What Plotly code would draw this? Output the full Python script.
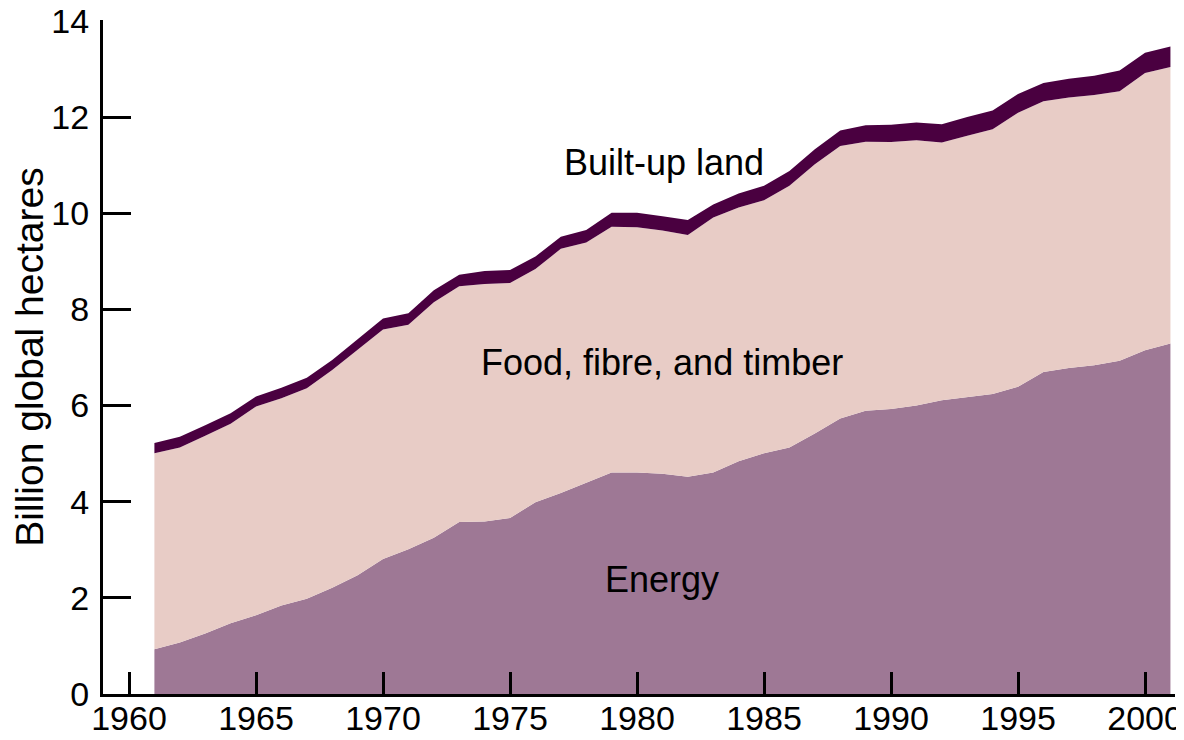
import plotly.graph_objects as go

years = list(range(1961, 2002))

energy = [0.93, 1.07, 1.26, 1.47, 1.64, 1.84, 1.98, 2.21, 2.47, 2.81,
          3.01, 3.25, 3.58, 3.59, 3.66, 3.99, 4.18, 4.39, 4.61, 4.61,
          4.58, 4.52, 4.61, 4.84, 5.01, 5.13, 5.42, 5.73, 5.89, 5.93,
          6.00, 6.11, 6.17, 6.24, 6.39, 6.70, 6.78, 6.84, 6.93, 7.15,
          7.29]

food_fibre_timber = [4.08, 4.06, 4.11, 4.15, 4.34, 4.31, 4.38, 4.53, 4.69, 4.77,
                     4.67, 4.90, 4.90, 4.94, 4.89, 4.85, 5.08, 5.00, 5.11, 5.10,
                     5.06, 5.03, 5.30, 5.28, 5.26, 5.44, 5.60, 5.67, 5.60, 5.55,
                     5.52, 5.36, 5.44, 5.51, 5.70, 5.63, 5.63, 5.62, 5.61, 5.77,
                     5.75]

built_up_land = [0.21, 0.22, 0.22, 0.22, 0.21, 0.22, 0.22, 0.21, 0.22, 0.23,
                 0.24, 0.25, 0.24, 0.27, 0.27, 0.26, 0.25, 0.26, 0.29, 0.30,
                 0.30, 0.31, 0.27, 0.29, 0.30, 0.31, 0.31, 0.32, 0.34, 0.36,
                 0.37, 0.38, 0.39, 0.39, 0.39, 0.38, 0.39, 0.40, 0.43, 0.42,
                 0.43]

x_ticks = [1960, 1965, 1970, 1975, 1980, 1985, 1990, 1995, 2000]
y_ticks = [0, 2, 4, 6, 8, 10, 12, 14]

labels = ["Energy", "Food, fibre, and timber", "Built-up land"]
label_pos = [(1981.0, 2.38), (1981.0, 6.90), (1981.05, 11.05)]

colors = ["#9e7895", "#e8ccc6", "#4a0040"]
FONT = "Liberation Sans, Arial, Helvetica, sans-serif"

fig = go.Figure()
for name, vals, col in zip(labels, [energy, food_fibre_timber, built_up_land], colors):
    fig.add_trace(go.Scatter(
        x=years, y=vals, name=name, mode="lines",
        stackgroup="one", line=dict(width=0, color=col),
        fillcolor=col, hoverinfo="skip"))

for text, (lx, ly) in zip(labels, label_pos):
    fig.add_annotation(x=lx, y=ly, text=text, showarrow=False,
                       font=dict(family=FONT, size=36, color="black"),
                       xanchor="center", yanchor="middle")

# page has an 8px body margin, so the figure is sized to fit inside the window
fig.update_layout(
    width=1176, height=732,
    margin=dict(l=95, r=9, t=11.5, b=45.7),
    paper_bgcolor="white", plot_bgcolor="white",
    showlegend=False,
    font=dict(family=FONT, color="black"),
)
fig.update_xaxes(
    range=[1958.976, 2001.18], tickmode="array", tickvals=x_ticks,
    automargin=False, ticklabeloverflow="allow",
    showgrid=False, zeroline=False,
    showline=True, linecolor="black", linewidth=3,
    ticks="inside", ticklen=22, tickwidth=3, tickcolor="black",
    ticklabelstandoff=-8,
    tickfont=dict(family=FONT, size=34, color="black"),
)
fig.update_yaxes(
    range=[0, 14.02], tickmode="array", tickvals=y_ticks,
    automargin=False, ticklabeloverflow="allow",
    showgrid=False, zeroline=False,
    showline=True, linecolor="black", linewidth=3,
    ticks="inside", ticklen=28, tickwidth=3, tickcolor="black",
    ticklabelstandoff=4,
    tickfont=dict(family=FONT, size=34, color="black"),
    title=dict(text="Billion global hectares", standoff=17,
               font=dict(family=FONT, size=39, color="black")),
)

fig.write_html("out.html")
